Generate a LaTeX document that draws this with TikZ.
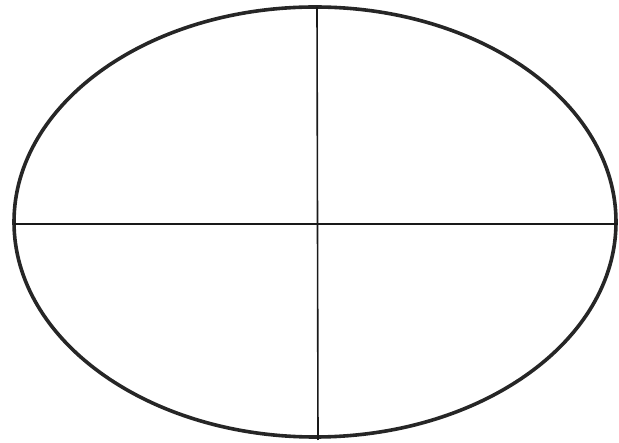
\documentclass[tikz,border=0pt]{standalone}
\begin{document}
\begin{tikzpicture}[x=1pt,y=-1pt,
  rim/.style={line width=3.6pt,draw=black!85},
  axis/.style={line width=1.6pt,draw=black!90}]
\useasboundingbox (0,0) rectangle (619,443);
\coordinate (c) at (315,222);
\draw[rim] (c) ellipse [x radius=301, y radius=215];
\coordinate (l) at (14,224);
\coordinate (r) at (618,224);
\coordinate (t) at (317,7);
\coordinate (b) at (318,440);
\draw[axis] (l) -- (r);
\draw[axis] (t) -- (b);
\end{tikzpicture}
\end{document}
